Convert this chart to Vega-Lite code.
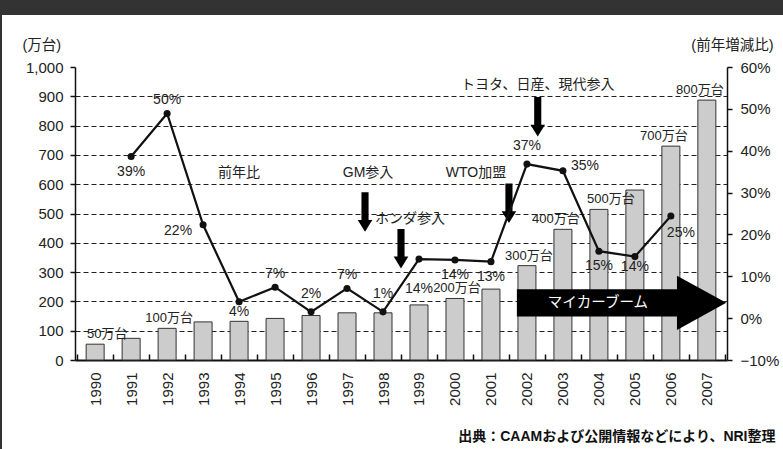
{
  "$schema": "https://vega.github.io/schema/vega-lite/v6.json",
  "width": 781,
  "height": 434,
  "autosize": {"type": "none"},
  "padding": {"left": 2, "top": 15, "right": 0, "bottom": 0},
  "background": "#333333",
  "config": {
    "view": {"fill": "#ffffff", "stroke": null},
    "font": "Liberation Sans, Noto Sans CJK JP, sans-serif",
    "text": {"color": "#222222", "font": "Liberation Sans, Noto Sans CJK JP, sans-serif"},
    "axis": {"labelFont": "Liberation Sans, Noto Sans CJK JP, sans-serif", "titleFont": "Liberation Sans, Noto Sans CJK JP, sans-serif"}
  },
  "datasets": {
    "production": [
      {"year": 1990, "units": 54, "pct": null, "pctLabel": null, "milestone": "50万台"},
      {"year": 1991, "units": 74, "pct": 38.6, "pctLabel": "39%", "milestone": null},
      {"year": 1992, "units": 108, "pct": 48.9, "pctLabel": "50%", "milestone": "100万台"},
      {"year": 1993, "units": 130, "pct": 22.3, "pctLabel": "22%", "milestone": null},
      {"year": 1994, "units": 132, "pct": 3.9, "pctLabel": "4%", "milestone": null},
      {"year": 1995, "units": 142, "pct": 7.4, "pctLabel": "7%", "milestone": null},
      {"year": 1996, "units": 152, "pct": 1.5, "pctLabel": "2%", "milestone": null},
      {"year": 1997, "units": 161, "pct": 7.1, "pctLabel": "7%", "milestone": null},
      {"year": 1998, "units": 161, "pct": 1.5, "pctLabel": "1%", "milestone": null},
      {"year": 1999, "units": 188, "pct": 14.1, "pctLabel": "14%", "milestone": null},
      {"year": 2000, "units": 210, "pct": 13.9, "pctLabel": "14%", "milestone": "200万台"},
      {"year": 2001, "units": 242, "pct": 13.5, "pctLabel": "13%", "milestone": null},
      {"year": 2002, "units": 322, "pct": 36.8, "pctLabel": "37%", "milestone": "300万台"},
      {"year": 2003, "units": 446, "pct": 35.2, "pctLabel": "35%", "milestone": "400万台"},
      {"year": 2004, "units": 514, "pct": 16.0, "pctLabel": "15%", "milestone": "500万台"},
      {"year": 2005, "units": 580, "pct": 14.7, "pctLabel": "14%", "milestone": null},
      {"year": 2006, "units": 730, "pct": 24.4, "pctLabel": "25%", "milestone": "700万台"},
      {"year": 2007, "units": 887, "pct": null, "pctLabel": null, "milestone": "800万台"}
    ],
    "arrows": [
      {"event": "GM参入", "year": 1998, "units": 505},
      {"event": "ホンダ参入", "year": 1999, "units": 380},
      {"event": "WTO加盟", "year": 2002, "units": 535},
      {"event": "トヨタ、日産、現代参入", "year": 2002, "units": 830},
      {"event": "マイカーブーム", "year": 2005, "units": 195}
    ],
    "notes": [
      {"note": "前年比", "year": 1994, "units": 638},
      {"note": "GM参入", "year": 1998, "units": 638},
      {"note": "WTO加盟", "year": 2001, "units": 638},
      {"note": "トヨタ、日産、現代参入", "year": 2002, "units": 939},
      {"note": "ホンダ参入", "year": 1999, "units": 481},
      {"note": "マイカーブーム", "year": 2004, "units": 195}
    ]
  },
  "layer": [
    {
      "layer": [
        {
          "data": {"name": "production"},
          "mark": {"type": "bar", "width": {"band": 0.5}, "fill": "#cccccc", "stroke": "#333333", "strokeWidth": 1},
          "encoding": {
            "x": {
              "field": "year", "type": "ordinal",
              "scale": {"domain": [1990,1991,1992,1993,1994,1995,1996,1997,1998,1999,2000,2001,2002,2003,2004,2005,2006,2007], "range": [73, 725], "paddingInner": 0, "paddingOuter": 0.06},
              "axis": {
                "orient": "bottom", "offset": -89, "labelAngle": -90, "labelFontSize": 15, "labelColor": "#222222",
                "labelPadding": 18, "tickBand": "extent", "tickSize": -6, "tickColor": "#111111", "tickWidth": 1.5,
                "domainColor": "#111111", "domainWidth": 2,
                "title": "出典：CAAMおよび公開情報などにより、NRI整理",
                "titleFontSize": 14, "titleFontWeight": "bold", "titleColor": "#111111",
                "titleAlign": "right", "titleBaseline": "middle", "titleAngle": 0, "titleX": 773, "titleY": 76
              }
            },
            "y": {
              "field": "units", "type": "quantitative",
              "scale": {"domain": [0, 1000], "range": [345, 52]},
              "axis": {
                "orient": "left", "offset": -73, "values": [0,100,200,300,400,500,600,700,800,900,1000], "format": ",.0f",
                "labelFontSize": 15, "labelColor": "#222222", "labelPadding": 7,
                "tickSize": 5, "tickColor": "#111111", "tickWidth": 1.5, "domainColor": "#111111", "domainWidth": 1.5,
                "grid": true, "gridColor": "#222222", "gridDash": [5, 3], "gridWidth": 1,
                "gridOpacity": {"condition": {"test": "datum.value <= 0 || datum.value >= 1000", "value": 0}, "value": 1},
                "title": "(万台)", "titleFontSize": 14.5, "titleFontWeight": "normal", "titleColor": "#222222",
                "titleAngle": 0, "titleAlign": "left", "titleBaseline": "middle", "titleX": -53, "titleY": 30
              }
            }
          }
        },
        {
          "data": {"name": "production"},
          "transform": [{"filter": {"field": "year", "oneOf": [1990, 2004]}}],
          "mark": {"type": "text", "fontSize": 13, "baseline": "middle", "dy": -10, "dx": 12},
          "encoding": {"x": {"field": "year", "type": "ordinal"}, "y": {"field": "units", "type": "quantitative"}, "text": {"field": "milestone"}}
        },
        {
          "data": {"name": "production"},
          "transform": [{"filter": {"field": "year", "oneOf": [1992, 2000, 2002]}}],
          "mark": {"type": "text", "fontSize": 13, "baseline": "middle", "dy": -10, "dx": 2},
          "encoding": {"x": {"field": "year", "type": "ordinal"}, "y": {"field": "units", "type": "quantitative"}, "text": {"field": "milestone"}}
        },
        {
          "data": {"name": "production"},
          "transform": [{"filter": {"field": "year", "oneOf": [2003, 2006, 2007]}}],
          "mark": {"type": "text", "fontSize": 13, "baseline": "middle", "dy": -10, "dx": -7},
          "encoding": {"x": {"field": "year", "type": "ordinal"}, "y": {"field": "units", "type": "quantitative"}, "text": {"field": "milestone"}}
        },
        {
          "data": {"name": "arrows"},
          "transform": [{"filter": {"field": "event", "oneOf": ["GM参入", "ホンダ参入", "WTO加盟"]}}],
          "mark": {"type": "point", "filled": true, "fill": "#000000", "strokeWidth": 0, "opacity": 1, "size": 1560,
                   "shape": "M-0.18,-1L0.18,-1L0.18,0.4L0.37,0.4L0,1L-0.37,0.4L-0.18,0.4Z"},
          "encoding": {"x": {"field": "year", "type": "ordinal", "bandPosition": 0}, "y": {"field": "units", "type": "quantitative"}}
        },
        {
          "data": {"name": "arrows"},
          "transform": [{"filter": {"field": "event", "oneOf": ["トヨタ、日産、現代参入"]}}],
          "mark": {"type": "point", "filled": true, "fill": "#000000", "strokeWidth": 0, "opacity": 1, "size": 1560,
                   "shape": "M-0.18,-1L0.18,-1L0.18,0.4L0.37,0.4L0,1L-0.37,0.4L-0.18,0.4Z"},
          "encoding": {"x": {"field": "year", "type": "ordinal", "bandPosition": 0.8}, "y": {"field": "units", "type": "quantitative"}}
        },
        {
          "data": {"name": "arrows"},
          "transform": [{"filter": {"field": "event", "oneOf": ["マイカーブーム"]}}],
          "mark": {"type": "point", "filled": true, "fill": "#000000", "strokeWidth": 0, "opacity": 1, "size": 43848,
                   "shape": "M-1,-0.131L0.529,-0.131L0.529,-0.258L1,0L0.529,0.258L0.529,0.131L-1,0.131Z"},
          "encoding": {"x": {"field": "year", "type": "ordinal", "bandPosition": 0.13}, "y": {"field": "units", "type": "quantitative"}}
        },
        {
          "data": {"name": "notes"},
          "transform": [{"filter": {"field": "note", "oneOf": ["前年比"]}}],
          "mark": {"type": "text", "fontSize": 14, "baseline": "middle"},
          "encoding": {"x": {"field": "year", "type": "ordinal"}, "y": {"field": "units", "type": "quantitative"}, "text": {"field": "note"}}
        },
        {
          "data": {"name": "notes"},
          "transform": [{"filter": {"field": "note", "oneOf": ["GM参入", "WTO加盟"]}}],
          "mark": {"type": "text", "fontSize": 14, "baseline": "middle", "dx": 3},
          "encoding": {"x": {"field": "year", "type": "ordinal", "bandPosition": 0}, "y": {"field": "units", "type": "quantitative"}, "text": {"field": "note"}}
        },
        {
          "data": {"name": "notes"},
          "transform": [{"filter": {"field": "note", "oneOf": ["トヨタ、日産、現代参入"]}}],
          "mark": {"type": "text", "fontSize": 14, "baseline": "middle"},
          "encoding": {"x": {"field": "year", "type": "ordinal", "bandPosition": 0.8}, "y": {"field": "units", "type": "quantitative"}, "text": {"field": "note"}}
        },
        {
          "data": {"name": "notes"},
          "transform": [{"filter": {"field": "note", "oneOf": ["ホンダ参入"]}}],
          "mark": {"type": "text", "fontSize": 14, "baseline": "middle"},
          "encoding": {"x": {"field": "year", "type": "ordinal", "bandPosition": 0.25}, "y": {"field": "units", "type": "quantitative"}, "text": {"field": "note"}}
        },
        {
          "data": {"name": "notes"},
          "transform": [{"filter": {"field": "note", "oneOf": ["マイカーブーム"]}}],
          "mark": {"type": "text", "fontSize": 14.5, "baseline": "middle", "color": "#ffffff", "dx": -1},
          "encoding": {"x": {"field": "year", "type": "ordinal"}, "y": {"field": "units", "type": "quantitative"}, "text": {"field": "note"}}
        }
      ]
    },
    {
      "data": {"name": "production"},
      "layer": [
        {
          "mark": {"type": "line", "color": "#111111", "strokeWidth": 2.2},
          "encoding": {
            "x": {"field": "year", "type": "ordinal"},
            "y": {
              "field": "pct", "type": "quantitative",
              "scale": {"domain": [-10, 60], "range": [345, 52]},
              "axis": {
                "orient": "right", "offset": -56, "values": [-10,0,10,20,30,40,50,60],
                "labelExpr": "(datum.value < 0 ? '−' + abs(datum.value) : datum.value) + '%'",
                "labelFontSize": 15, "labelColor": "#222222", "labelPadding": 8,
                "tickSize": 5, "tickColor": "#111111", "tickWidth": 1.5, "domainColor": "#111111", "domainWidth": 1.5,
                "grid": false,
                "title": "(前年増減比)", "titleFontSize": 14.5, "titleFontWeight": "normal", "titleColor": "#222222",
                "titleAngle": 0, "titleAlign": "right", "titleBaseline": "middle", "titleX": 46, "titleY": 30
              }
            }
          }
        },
        {
          "mark": {"type": "point", "filled": true, "color": "#111111", "size": 50, "opacity": 1},
          "encoding": {"x": {"field": "year", "type": "ordinal"}, "y": {"field": "pct", "type": "quantitative"}}
        },
        {
          "transform": [{"filter": {"field": "year", "oneOf": [1992, 1995, 1997]}}],
          "mark": {"type": "text", "fontSize": 14, "baseline": "middle", "dy": -13},
          "encoding": {"x": {"field": "year", "type": "ordinal"}, "y": {"field": "pct", "type": "quantitative"}, "text": {"field": "pctLabel"}}
        },
        {
          "transform": [{"filter": {"field": "year", "oneOf": [1996, 1998, 2002]}}],
          "mark": {"type": "text", "fontSize": 14, "baseline": "middle", "dy": -18},
          "encoding": {"x": {"field": "year", "type": "ordinal"}, "y": {"field": "pct", "type": "quantitative"}, "text": {"field": "pctLabel"}}
        },
        {
          "transform": [{"filter": {"field": "year", "oneOf": [1991, 2000, 2001, 2004]}}],
          "mark": {"type": "text", "fontSize": 14, "baseline": "middle", "dy": 15},
          "encoding": {"x": {"field": "year", "type": "ordinal"}, "y": {"field": "pct", "type": "quantitative"}, "text": {"field": "pctLabel"}}
        },
        {
          "transform": [{"filter": {"field": "year", "oneOf": [1994, 2005]}}],
          "mark": {"type": "text", "fontSize": 14, "baseline": "middle", "dy": 10},
          "encoding": {"x": {"field": "year", "type": "ordinal"}, "y": {"field": "pct", "type": "quantitative"}, "text": {"field": "pctLabel"}}
        },
        {
          "transform": [{"filter": {"field": "year", "oneOf": [1993]}}],
          "mark": {"type": "text", "fontSize": 14, "baseline": "middle", "dx": -25, "dy": 6},
          "encoding": {"x": {"field": "year", "type": "ordinal"}, "y": {"field": "pct", "type": "quantitative"}, "text": {"field": "pctLabel"}}
        },
        {
          "transform": [{"filter": {"field": "year", "oneOf": [1999]}}],
          "mark": {"type": "text", "fontSize": 14, "baseline": "middle", "dy": 30},
          "encoding": {"x": {"field": "year", "type": "ordinal"}, "y": {"field": "pct", "type": "quantitative"}, "text": {"field": "pctLabel"}}
        },
        {
          "transform": [{"filter": {"field": "year", "oneOf": [2003]}}],
          "mark": {"type": "text", "fontSize": 14, "baseline": "middle", "dx": 22, "dy": -5},
          "encoding": {"x": {"field": "year", "type": "ordinal"}, "y": {"field": "pct", "type": "quantitative"}, "text": {"field": "pctLabel"}}
        },
        {
          "transform": [{"filter": {"field": "year", "oneOf": [2006]}}],
          "mark": {"type": "text", "fontSize": 14, "baseline": "middle", "dx": 10, "dy": 17},
          "encoding": {"x": {"field": "year", "type": "ordinal"}, "y": {"field": "pct", "type": "quantitative"}, "text": {"field": "pctLabel"}}
        }
      ]
    }
  ],
  "resolve": {"scale": {"y": "independent"}, "axis": {"y": "independent"}}
}
